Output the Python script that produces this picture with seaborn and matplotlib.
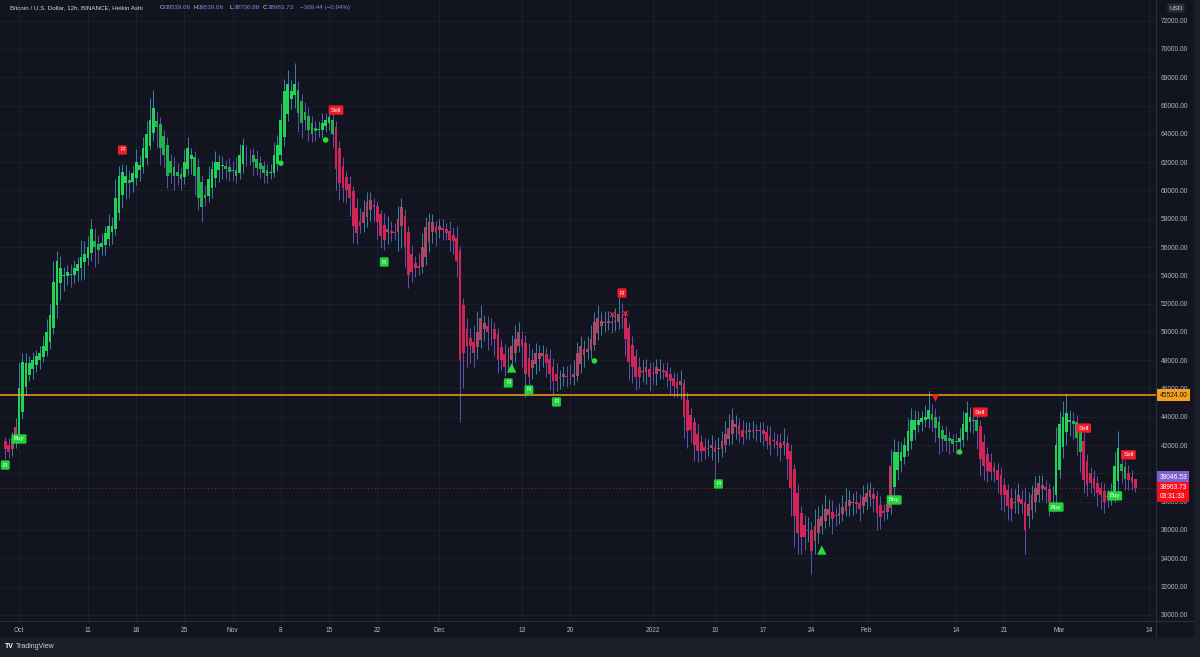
import seaborn as sns
import pandas as pd
import numpy as np
import matplotlib.pyplot as plt
import matplotlib.dates as mdates
from matplotlib.patches import Rectangle
from matplotlib.lines import Line2D

# ---- Heikin Ashi closes, 12h candles from 2021-09-29 00:00 ----
close_sep = [41700, 41500, 42500, 43300]
close_oct = [46000, 47900, 47800, 47800, 48000, 48300, 48500, 49000, 50000, 51200,
             53500, 55000, 54500, 54000, 54200, 54000, 54500, 54800, 55300, 55500,
             56000, 57300, 56000, 55800, 56300, 57000, 57500, 57500, 59500, 61000,
             61300, 61000, 60500, 61200, 62000, 61800, 63000, 64000, 65000, 65800,
             64500, 63000, 62500, 61000, 61200, 61000, 61000, 60800, 62000, 63000,
             62500, 61000, 59500, 58800, 59500, 60800, 61500, 62000, 62000, 61800,
             61500, 61300]
close_nov = [61400, 61000, 62500, 63200, 62500, 62500, 62000, 61600, 61500, 61200,
             61000, 61300, 62500, 63200, 65000, 67000, 67500, 67000, 67500, 65500,
             64800, 65000, 64300, 64000, 64200, 64300, 64800, 65000, 65200, 64000,
             61500, 60500, 60200, 60000, 59500, 57500, 57000, 57500, 58500, 59200,
             59300, 58800, 57800, 56800, 56500, 57300, 57000, 57000, 58000, 58800,
             56000, 54000, 54200, 54500, 54500, 56000, 57400, 57800, 57800, 57000]
close_dec = [57500, 57200, 57000, 56500, 56400, 55000, 48000, 48500, 49000, 49000,
             48500, 50000, 51000, 50600, 50000, 50200, 49500, 48000, 48000, 47500,
             48000, 49000, 49500, 50000, 49000, 47000, 46800, 48000, 48500, 48500,
             48500, 47800, 47000, 46500, 46500, 46800, 47000, 46800, 46800, 47000,
             48500, 49000, 48800, 48800, 49500, 50700, 51000, 50800, 50700, 50800,
             50600, 50800, 51300, 51000, 49500, 47900, 47500, 46800, 46800, 47200,
             47500, 46800]
close_jan = [47000, 47500, 47400, 47200, 46800, 46500, 46200, 46000, 46500, 44000,
             43000, 43100, 42000, 41600, 41600, 41600, 41800, 42000, 41500, 41800,
             42300, 42800, 43200, 43800, 43500, 42800, 42600, 43000, 43100, 43100,
             43000, 43100, 42800, 42300, 42000, 42300, 42000, 41800, 42300, 41000,
             39000, 37000, 35800, 35500, 35500, 36000, 34500, 36300, 36800, 37000,
             37500, 37500, 36800, 37000, 37200, 37600, 38000, 38100, 38000, 37800,
             37500, 38300]
close_feb = [38600, 38800, 38200, 37200, 36900, 37200, 37800, 40500, 41500, 41500,
             41500, 42000, 43000, 43800, 43800, 43800, 43900, 44000, 44500, 43800,
             43200, 42500, 42400, 42300, 42300, 42100, 42200, 42500, 43500, 44300,
             44000, 43700, 43000, 41000, 40500, 40200, 40100, 40100, 39500, 38500,
             38500, 37700, 37500, 38000, 38500, 37800, 36000, 37800, 38500, 39000,
             39300, 39200, 38800, 38000, 38500, 42000]
close_mar = [43500, 44000, 44300, 43800, 43500, 42500, 41500, 39500, 39200, 39300,
             39000, 38600, 38500, 38000, 38300, 38600, 40500, 41800, 40200, 39600,
             39500, 39400, 38963.73]
first_open = 42300

# upper / lower wick lengths (USD)
wu_sep = [300, 500, 400, 600]
wd_sep = [700, 400, 500, 300]
wu_oct = [1800, 600, 700, 500, 600, 400, 500, 700, 900, 800, 1500, 700, 900, 600, 500, 700, 600, 500, 1200, 900,
          800, 700, 900, 600, 700, 500, 800, 600, 1300, 700, 600, 800, 700, 500, 900, 600, 800, 900, 1500, 1300,
          600, 500, 400, 600, 500, 700, 600, 500, 900, 800, 500, 400, 600, 500, 700, 900, 600, 800, 500, 600,
          400, 700]
wd_oct = [300, 500, 600, 400, 700, 500, 600, 400, 300, 500, 400, 900, 1200, 1100, 700, 800, 600, 700, 900, 1200,
          500, 600, 1400, 900, 600, 700, 500, 800, 400, 500, 900, 1100, 1000, 700, 500, 800, 400, 500, 300, 600,
          1500, 1200, 900, 800, 700, 1000, 600, 800, 500, 400, 1100, 1300, 900, 1000, 600, 400, 700, 600, 800, 900,
          700, 600]
wu_nov = [600, 900, 800, 500, 700, 400, 500, 600, 500, 400, 400, 600, 900, 700, 1200, 900, 1000, 800, 1500, 600,
          500, 700, 600, 500, 500, 600, 700, 500, 800, 600, 400, 500, 600, 400, 500, 300, 700, 900, 800, 700,
          600, 500, 400, 300, 800, 900, 700, 600, 900, 700, 500, 400, 600, 500, 900, 1000, 700, 600, 500, 400]
wd_nov = [700, 500, 400, 600, 800, 700, 900, 500, 600, 700, 500, 400, 300, 500, 400, 600, 500, 700, 900, 1400,
          1100, 700, 800, 600, 700, 500, 600, 400, 500, 900, 1500, 1200, 1000, 900, 1300, 1200, 800, 500, 600, 700,
          800, 1000, 1200, 900, 700, 800, 600, 500, 1300, 1600, 1400, 900, 700, 600, 500, 400, 600, 700, 800, 900]
wu_dec = [500, 600, 400, 700, 600, 900, 300, 500, 800, 700, 1200, 1500, 900, 600, 700, 800, 500, 400, 600, 700,
          900, 800, 1000, 700, 600, 500, 1100, 800, 700, 600, 600, 500, 700, 600, 800, 500, 600, 700, 900, 1000,
          800, 700, 600, 900, 1000, 700, 900, 600, 800, 700, 600, 900, 1200, 1000, 500, 400, 600, 500, 700, 800,
          600, 500]
wd_dec = [600, 700, 500, 800, 900, 1100, 4400, 2500, 1500, 1200, 1000, 800, 600, 900, 1300, 1100, 1200, 900, 700, 600,
          800, 500, 600, 400, 1500, 1600, 1200, 800, 700, 900, 800, 1000, 1100, 900, 700, 800, 600, 700, 500, 600,
          400, 600, 800, 500, 600, 400, 500, 700, 600, 500, 700, 600, 500, 700, 1200, 1300, 1100, 900, 800, 700,
          900, 1000]
wu_jan = [800, 600, 700, 500, 600, 500, 400, 600, 800, 300, 600, 500, 400, 700, 500, 600, 600, 700, 500, 800,
          700, 900, 1000, 800, 600, 500, 700, 600, 500, 600, 400, 500, 600, 500, 700, 600, 500, 700, 900, 600,
          500, 400, 600, 500, 700, 900, 600, 1200, 900, 800, 1000, 700, 800, 600, 700, 900, 1000, 700, 600, 800,
          700, 900]
wd_jan = [700, 800, 600, 500, 700, 900, 800, 600, 1000, 1500, 1200, 900, 1100, 800, 700, 600, 500, 800, 1800, 900,
          600, 500, 400, 700, 900, 600, 500, 400, 600, 500, 700, 800, 900, 600, 700, 500, 800, 900, 700, 1400,
          2000, 2200, 1500, 1200, 900, 800, 1600, 900, 700, 600, 500, 800, 1100, 700, 600, 500, 400, 700, 800, 600,
          900, 500]
wu_feb = [700, 600, 500, 400, 600, 500, 700, 1200, 900, 800, 700, 600, 900, 800, 700, 600, 500, 800, 1300, 700,
          600, 500, 400, 600, 500, 400, 600, 700, 900, 800, 700, 600, 500, 400, 600, 500, 700, 400, 500, 600,
          500, 400, 700, 900, 800, 600, 1000, 900, 700, 800, 600, 700, 500, 400, 600, 1300]
wd_feb = [500, 600, 900, 1200, 800, 600, 500, 400, 600, 700, 800, 500, 400, 600, 700, 500, 600, 500, 700, 900,
          1000, 1100, 800, 700, 900, 600, 800, 700, 500, 600, 700, 900, 1300, 1200, 1000, 800, 600, 700, 900, 1100,
          1200, 1000, 900, 700, 800, 600, 1700, 900, 600, 700, 500, 800, 900, 1000, 1200, 700]
wu_mar = [900, 1100, 1300, 700, 600, 500, 400, 600, 500, 400, 600, 500, 400, 600, 500, 700, 1000, 1200, 600, 500,
          600, 500, 0]
wd_mar = [600, 800, 900, 1000, 1100, 1200, 1400, 900, 800, 700, 600, 900, 1000, 800, 700, 600, 500, 700, 900, 800,
          700, 600, 263]

# ---- signals and markers (candle index, price) ----
sig_idx = [4, 96, 258, 283, 305, 313, 322, 326]
sig_kind = ["Buy", "Sell", "Buy", "Sell", "Buy", "Sell", "Buy", "Sell"]
sig_price = [42430, 65680, 38120, 44330, 37620, 43200, 38410, 41310]

r_idx = [0, 34, 110, 146, 152, 160, 179, 207]
r_kind = ["g", "r", "g", "g", "g", "g", "r", "g"]
r_price = [40590, 62860, 54940, 46390, 45900, 45050, 52750, 39250]

dot_idx = [80, 93, 171, 277]
dot_price = [61930, 63570, 47950, 41510]
tri_up_idx = [147, 237]
tri_up_price = [47450, 34580]
tri_dn_idx = [270]
tri_dn_price = [45330]
cross_idx = [176, 180]
cross_price = [51270, 51340]

level_line = 45524.00
last_price = 38963.73
purple_price = 39046.53

x_tick_dates = ["2021-10-01", "2021-10-11", "2021-10-18", "2021-10-25", "2021-11-01", "2021-11-08",
                "2021-11-15", "2021-11-22", "2021-12-01", "2021-12-13", "2021-12-20", "2022-01-01",
                "2022-01-10", "2022-01-17", "2022-01-24", "2022-02-01", "2022-02-14", "2022-02-21",
                "2022-03-01", "2022-03-14"]
x_tick_labels = ["Oct", "11", "18", "25", "Nov", "8", "15", "22", "Dec", "13", "20", "2022",
                 "10", "17", "24", "Feb", "14", "21", "Mar", "14"]

# ---- build frame ----
close = close_sep + close_oct + close_nov + close_dec + close_jan + close_feb + close_mar
wick_up = wu_sep + wu_oct + wu_nov + wu_dec + wu_jan + wu_feb + wu_mar
wick_dn = wd_sep + wd_oct + wd_nov + wd_dec + wd_jan + wd_feb + wd_mar
times = pd.date_range("2021-09-29", periods=len(close), freq="12h")

opens = [first_open]
for c in close[:-1]:
    opens.append((opens[-1] + c) / 2)

df = pd.DataFrame({"time": times, "open": opens, "close": close})
df["x"] = mdates.date2num(df["time"])
df["top"] = df[["open", "close"]].max(axis=1)
df["bot"] = df[["open", "close"]].min(axis=1)
df["high"] = df["top"] + np.array(wick_up)
df["low"] = df["bot"] - np.array(wick_dn)
df["up"] = df["close"] >= df["open"]

trend = []
state = "Sell"
sig_map = dict(zip(sig_idx, sig_kind))
for i in range(len(df)):
    state = sig_map.get(i, state)
    trend.append(state)
df["trend"] = trend

BG = "#12151f"
FOOT = "#1b1e29"
GRID = "#1d212c"
TXT = "#b2b5be"
GREEN = "#22d35a"
GREEN_D = "#1fb24e"
RED = "#cf2559"
RED_L = "#a94767"
WICK_UP = "#3a84a8"
WICK_DN = "#6550b0"


def body_color(r):
    if r.trend == "Buy":
        return GREEN if r.up else GREEN_D
    return RED_L if r.up else RED


df["body_c"] = [body_color(r) for r in df.itertuples()]
df["wick_c"] = np.where(df["up"], WICK_UP, WICK_DN)

# ---- figure ----
sns.set_style("dark", rc={"axes.facecolor": BG, "figure.facecolor": FOOT, "grid.color": GRID})
plt.rcParams["font.family"] = ["Liberation Sans", "DejaVu Sans"]

W, H = 1200, 657
fig = plt.figure(figsize=(12, 6.57), dpi=100)
fig.patches.append(Rectangle((0, 20 / H), 1194 / W, 637 / H, transform=fig.transFigure,
                             fc=BG, ec="none", zorder=-5))
ax = fig.add_axes([0, 36 / H, 1156 / W, 621 / H])
ax.set_facecolor(BG)


def px(x, y):
    return x / W, 1 - y / H


ax.vlines(df["x"], df["low"], df["high"], colors=df["wick_c"], lw=0.7, zorder=2)
ax.bar(df["x"], np.maximum(df["top"] - df["bot"], 40), bottom=df["bot"], width=0.4,
       color=df["body_c"], lw=0, zorder=3)

ax.axhline(level_line, color="#f5a11c", lw=1.1, zorder=4)
ax.axhline(last_price, color="#e0323f", lw=0.7, ls=(0, (1, 2.5)), alpha=0.6, zorder=1)

x0 = mdates.date2num(times[0])


def ix(i):
    return x0 + i * 0.5


# markers
sns.scatterplot(x=[ix(i) for i in dot_idx], y=dot_price, marker="o", s=16, color="#22e03a",
                edgecolor="none", ax=ax, zorder=6, legend=False)
sns.scatterplot(x=[ix(i) for i in tri_up_idx], y=tri_up_price, marker="^", s=45, color="#22e03a",
                edgecolor="none", ax=ax, zorder=6, legend=False)
sns.scatterplot(x=[ix(i) for i in tri_dn_idx], y=tri_dn_price, marker="v", s=30, color="#f0202a",
                edgecolor="none", ax=ax, zorder=6, legend=False)
ax.scatter([ix(i) for i in cross_idx], cross_price, marker="x", s=12, color="#e8202a", lw=1.0, zorder=6)

for i, k, p in zip(sig_idx, sig_kind, sig_price):
    fc = "#1fd33a" if k == "Buy" else "#f21c2a"
    ax.text(ix(i), p, k, ha="center", va="center", fontsize=4.5, color="white", zorder=7,
            bbox=dict(boxstyle="round,pad=0.35,rounding_size=0.2", fc=fc, ec="none"))
for i, k, p in zip(r_idx, r_kind, r_price):
    fc = "#1fd33a" if k == "g" else "#f21c2a"
    ax.text(ix(i), p, "R", ha="center", va="center", fontsize=4.5, color="white", zorder=7,
            bbox=dict(boxstyle="round,pad=0.35,rounding_size=0.2", fc=fc, ec="none"))

# axes
ax.set_xlim(mdates.date2num(pd.Timestamp("2021-09-28 05:45")), mdates.date2num(pd.Timestamp("2022-03-15 00:00")))
ax.set_ylim(29564, 73463)
ax.set_xticks(mdates.date2num(pd.to_datetime(x_tick_dates)))
ax.set_xticklabels(x_tick_labels)
yt = list(range(30000, 72001, 2000))
ax.yaxis.tick_right()
ax.set_yticks(yt)
ax.set_yticklabels([f"{v:.2f}" for v in yt])
ax.tick_params(axis="y", length=0, pad=3.5, labelsize=4.8, colors=TXT)
ax.tick_params(axis="x", length=0, pad=4.5, labelsize=4.8, colors=TXT)
ax.grid(True, color=GRID, lw=0.6)
for s in ax.spines.values():
    s.set_visible(False)
ax.set_xlabel("")
ax.set_ylabel("")

# frame lines
fig.add_artist(Line2D([0, 1194 / W], [36 / H, 36 / H], transform=fig.transFigure, color="#2a2e39", lw=0.8))
fig.add_artist(Line2D([1156 / W, 1156 / W], [20 / H, 1], transform=fig.transFigure, color="#2a2e39", lw=0.8))

# right axis price boxes
box = dict(boxstyle="square,pad=0.35", ec="none")
ax.annotate("45524.00", xy=(1.0, level_line), xycoords=("axes fraction", "data"), xytext=(2.5, 0),
            textcoords="offset points", ha="left", va="center", fontsize=4.8, color="#131722",
            annotation_clip=False, bbox=dict(box, fc="#f5a11c"))
ax.annotate("39046.53", xy=(1.0, 39740), xycoords=("axes fraction", "data"), xytext=(2.5, 0),
            textcoords="offset points", ha="left", va="center", fontsize=4.8, color="white",
            annotation_clip=False, bbox=dict(box, fc="#7e5fd0"))
ax.annotate("38963.73\n03:31:33", xy=(1.0, 38700), xycoords=("axes fraction", "data"), xytext=(2.5, 0),
            textcoords="offset points", ha="left", va="center", fontsize=4.8, color="white", linespacing=1.3,
            annotation_clip=False, bbox=dict(box, fc="#f50f1c"))

fig.text(*px(1176, 8), "USD", ha="center", va="center", fontsize=4.6, color="#d1d4dc",
         bbox=dict(boxstyle="round,pad=0.3", fc="#2a2e39", ec="none"))

# header
fig.text(*px(10, 7.5), "Bitcoin / U.S. Dollar, 12h, BINANCE, Heikin Ashi", ha="left", va="center",
         fontsize=4.5, color="#d1d4dc")
PUR = "#9a7be0"
for xx, lab, val in [(160, "O", "39539.06"), (193, "H", "39539.06"), (229, "L", "38700.88"), (263, "C", "38963.73")]:
    fig.text(*px(xx, 7.5), lab, ha="left", va="center", fontsize=4.5, color="#d1d4dc")
    fig.text(*px(xx + 4.8, 7.5), val, ha="left", va="center", fontsize=4.5, color=PUR)
fig.text(*px(300, 7.5), "\u2212369.44 (\u22120.94%)", ha="left", va="center", fontsize=4.5, color=PUR)

# footer
fig.text(*px(5, 647), "TV", ha="left", va="center", fontsize=5, color="white", fontweight="bold")
fig.text(*px(16, 647), "TradingView", ha="left", va="center", fontsize=5, color="#d1d4dc")

fig.savefig("out.png", dpi=100, facecolor=fig.get_facecolor())
